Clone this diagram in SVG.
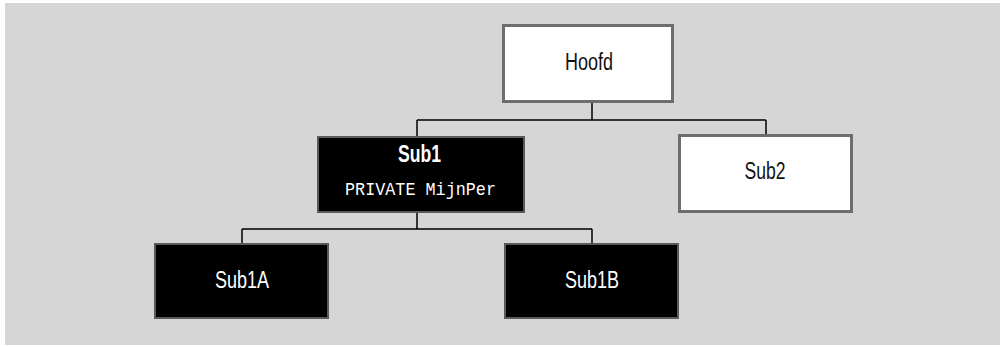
<svg xmlns="http://www.w3.org/2000/svg" width="1003" height="347" viewBox="0 0 1003 347">
<style>
.bg{fill:#d6d6d6}
.wbox{fill:#ffffff;stroke:#6e6e6e;stroke-width:3}
.bbox{fill:#000000;stroke:#5a5a5a;stroke-width:2}
.lbl{font-family:"Liberation Sans",Arial,sans-serif;font-size:23px;text-anchor:middle}
.dark{fill:#111111}
.light{fill:#ffffff}
.bold{font-weight:bold}
.mono{font-family:"Liberation Mono","Courier New",monospace;font-size:18px;text-anchor:middle;fill:#ffffff}
.conn{fill:none;stroke:#000000;stroke-width:1.5}
</style>
<rect x="0" y="0" width="1003" height="347" fill="#ffffff"/>
<rect class="bg" x="5" y="3" width="995" height="342"/>
<g id="connectors">
<path class="conn" d="M592,102 V120 M417,120 H766 M417,120 V137 M766,120 V135"/>
<path class="conn" d="M417,212 V229 M242,229 H592 M242,229 V244 M592,229 V244"/>
</g>
<g id="hoofd">
<rect class="wbox" x="503.5" y="25.5" width="169" height="76"/>
<text class="lbl dark" x="589" y="70" textLength="48" lengthAdjust="spacingAndGlyphs">Hoofd</text>
</g>
<g id="sub1">
<rect class="bbox" x="318" y="137" width="206" height="75"/>
<text class="lbl light bold" x="419.5" y="162" textLength="43" lengthAdjust="spacingAndGlyphs">Sub1</text>
<text class="mono" x="420.5" y="195" textLength="151" lengthAdjust="spacingAndGlyphs">PRIVATE MijnPer</text>
</g>
<g id="sub2">
<rect class="wbox" x="679.5" y="135.5" width="172" height="76"/>
<text class="lbl dark" x="765" y="179" textLength="41" lengthAdjust="spacingAndGlyphs">Sub2</text>
</g>
<g id="sub1a">
<rect class="bbox" x="155" y="244" width="173" height="74"/>
<text class="lbl light" x="242" y="288" textLength="54" lengthAdjust="spacingAndGlyphs">Sub1A</text>
</g>
<g id="sub1b">
<rect class="bbox" x="505" y="244" width="173" height="74"/>
<text class="lbl light" x="592" y="288" textLength="54" lengthAdjust="spacingAndGlyphs">Sub1B</text>
</g>
</svg>
